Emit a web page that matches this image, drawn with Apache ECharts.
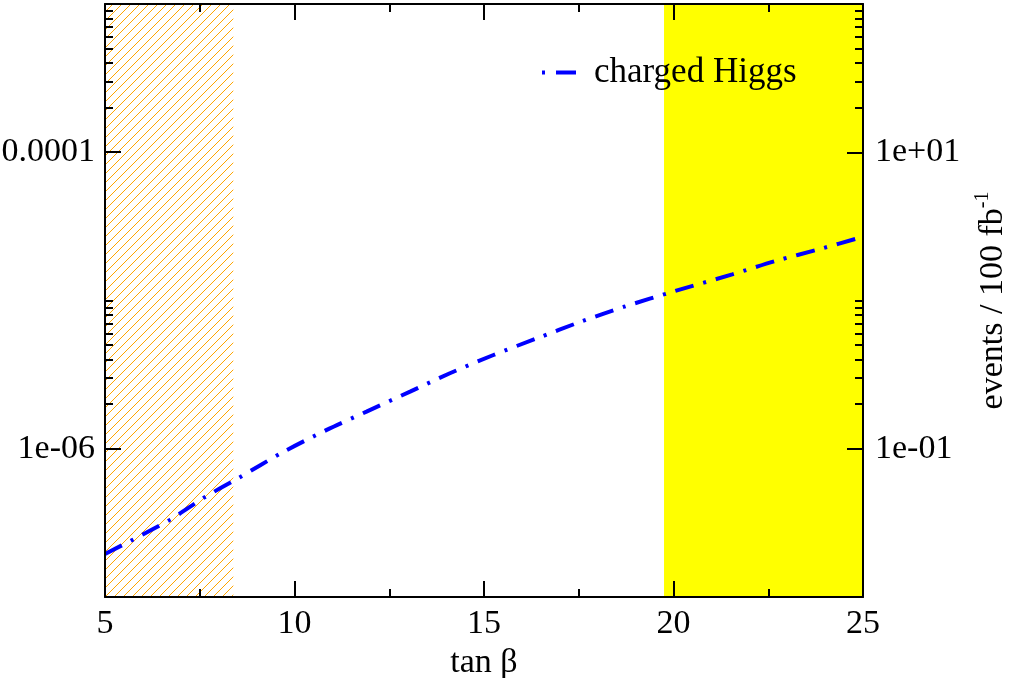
<!DOCTYPE html>
<html style="height: 100%">
<head>
  <meta charset="utf-8">
</head>
<body style="height: 100%; margin: 0; background: #fff">
  <div id="container" style="width: 1009px; height: 678px"></div>
  <script type="text/javascript" src="https://cdn.jsdelivr.net/npm/echarts@6/dist/echarts.min.js"></script>
  <script type="text/javascript">

    // curve (tan beta vs. rate)
    var tanBeta = [5, 6.7, 7.6, 8.5, 9.7, 10.85, 11.9, 13.05, 14.1, 15.25, 16.4, 17.55, 18.7, 20.05, 21.55, 22.7, 23.85, 25];
    var higgsRate = [1.95e-7, 3.3e-7, 4.66e-7, 6.3e-7, 9.5e-7, 1.34e-6, 1.78e-6, 2.43e-6, 3.23e-6, 4.29e-6, 5.56e-6, 7.19e-6, 9.08e-6, 1.16e-5, 1.5e-5, 1.85e-5, 2.22e-5, 2.69e-5];

    // shaded tan beta ranges
    var hatchedRange = [5, 8.385];
    var yellowRange = [19.75, 25];

    // axis ticks
    var leftMajor = [1e-6, 1e-4];
    var leftMajorLabels = ['1e-06', '0.0001'];
    var leftMinor = [2e-6, 3e-6, 4e-6, 5e-6, 6e-6, 7e-6, 8e-6, 9e-6, 1e-5,
                     2e-4, 3e-4, 4e-4, 5e-4, 6e-4, 7e-4, 8e-4, 9e-4];
    var rightMajor = [0.1, 10];
    var rightMajorLabels = ['1e-01', '1e+01'];
    var rightMinor = [0.2, 0.3, 0.4, 0.5, 0.6, 0.7, 0.8, 0.9, 1,
                      20, 30, 40, 50, 60, 70, 80, 90];

    var font = 'Liberation Serif';

    // orange hatch pattern
    var hatch = document.createElement('canvas');
    hatch.width = 9;
    hatch.height = 9;
    var ctx = hatch.getContext('2d');
    ctx.strokeStyle = '#ffa500';
    ctx.lineWidth = 1;
    ctx.beginPath();
    ctx.moveTo(0, 9); ctx.lineTo(9, 0);
    ctx.moveTo(-1, 1); ctx.lineTo(1, -1);
    ctx.moveTo(8, 10); ctx.lineTo(10, 8);
    ctx.stroke();

    function pickLabel(values, labels) {
      return function (v) {
        for (var i = 0; i < values.length; i++) {
          if (Math.abs(Math.log10(v) - Math.log10(values[i])) < 0.01) return labels[i];
        }
        return '';
      };
    }

    var dom = document.getElementById('container');
    var myChart = echarts.init(dom, null, { renderer: 'canvas' });

    var axisLine = { show: true, onZero: false, lineStyle: { color: '#000', width: 2 } };
    var tickStyle = { color: '#000', width: 2 };

    var option = {
      animation: false,
      grid: { left: 105, right: 146, top: 4, bottom: 81, outerBoundsMode: 'none' },
      legend: {
        left: 535,
        top: 50,
        itemWidth: 47,
        itemHeight: 14,
        selectedMode: false,
        textStyle: { fontFamily: font, fontSize: 35, color: '#000' },
        itemStyle: { opacity: 0 },
        lineStyle: { type: [20, 13, 3, 11], dashOffset: 33, width: 4 },
        data: ['charged Higgs']
      },
      xAxis: [
        {
          type: 'value', position: 'bottom', min: 5, max: 25, interval: 5, z: 10,
          axisLine: axisLine,
          axisTick: { inside: true, length: 16, lineStyle: tickStyle },
          minorTick: { show: true, splitNumber: 2, length: 8, lineStyle: tickStyle },
          splitLine: { show: false },
          axisLabel: { fontFamily: font, fontSize: 34, color: '#000', margin: 10 },
          name: 'tan β', nameLocation: 'middle', nameGap: 45,
          nameTextStyle: { fontFamily: font, fontSize: 34, color: '#000' }
        },
        {
          type: 'value', position: 'top', min: 5, max: 25, interval: 5, z: 10,
          axisLine: axisLine,
          axisTick: { inside: true, length: 16, lineStyle: tickStyle },
          minorTick: { show: true, splitNumber: 2, length: 8, lineStyle: tickStyle },
          splitLine: { show: false },
          axisLabel: { show: false }
        }
      ],
      yAxis: [
        {
          type: 'log', position: 'left', min: 1e-7, max: 1e-3, z: 10,
          axisLine: axisLine,
          axisTick: { inside: true, length: 16, customValues: leftMajor, lineStyle: tickStyle },
          splitLine: { show: false },
          axisLabel: {
            customValues: leftMajor, formatter: pickLabel(leftMajor, leftMajorLabels),
            fontFamily: font, fontSize: 34, color: '#000', margin: 10
          }
        },
        {
          type: 'log', position: 'left', min: 1e-7, max: 1e-3, z: 10,
          axisLine: { show: false },
          axisTick: { inside: true, length: 8, customValues: leftMinor, lineStyle: tickStyle },
          splitLine: { show: false },
          axisLabel: { show: false }
        },
        {
          type: 'log', position: 'right', min: 1e-2, max: 1e2, z: 10,
          axisLine: axisLine,
          axisTick: { inside: true, length: 16, customValues: rightMajor, lineStyle: tickStyle },
          splitLine: { show: false },
          axisLabel: {
            customValues: rightMajor, formatter: pickLabel(rightMajor, rightMajorLabels),
            fontFamily: font, fontSize: 34, color: '#000', margin: 12
          },
          name: '{a|events / 100 fb}{s|-1}',
          nameLocation: 'middle', nameRotate: 90, nameGap: 110,
          nameTextStyle: {
            fontFamily: font, fontSize: 34, color: '#000',
            rich: {
              a: { fontFamily: font, fontSize: 34, lineHeight: 40, color: '#000' },
              s: { fontFamily: font, fontSize: 20, lineHeight: 20, verticalAlign: 'top', color: '#000' }
            }
          }
        },
        {
          type: 'log', position: 'right', min: 1e-2, max: 1e2, z: 10,
          axisLine: { show: false },
          axisTick: { inside: true, length: 8, customValues: rightMinor, lineStyle: tickStyle },
          splitLine: { show: false },
          axisLabel: { show: false }
        }
      ],
      series: [
        {
          name: 'charged Higgs',
          type: 'line',
          xAxisIndex: 0,
          yAxisIndex: 0,
          symbol: 'none',
          smooth: 0.3,
          data: tanBeta.map(function (x, i) { return [x, higgsRate[i]]; }),
          lineStyle: { color: '#0000ff', width: 4, type: [19, 10, 3, 10], cap: 'butt' },
          itemStyle: { color: '#0000ff' },
          markArea: {
            silent: true,
            data: [
              [{ xAxis: hatchedRange[0], itemStyle: { color: { image: hatch, repeat: 'repeat' } } },
               { xAxis: hatchedRange[1] }],
              [{ xAxis: yellowRange[0], itemStyle: { color: '#ffff00' } },
               { xAxis: yellowRange[1] }]
            ],
            itemStyle: { opacity: 1 }
          }
        }
      ]
    };

    myChart.setOption(option);
    window.addEventListener('resize', myChart.resize);
  </script>
</body>
</html>
